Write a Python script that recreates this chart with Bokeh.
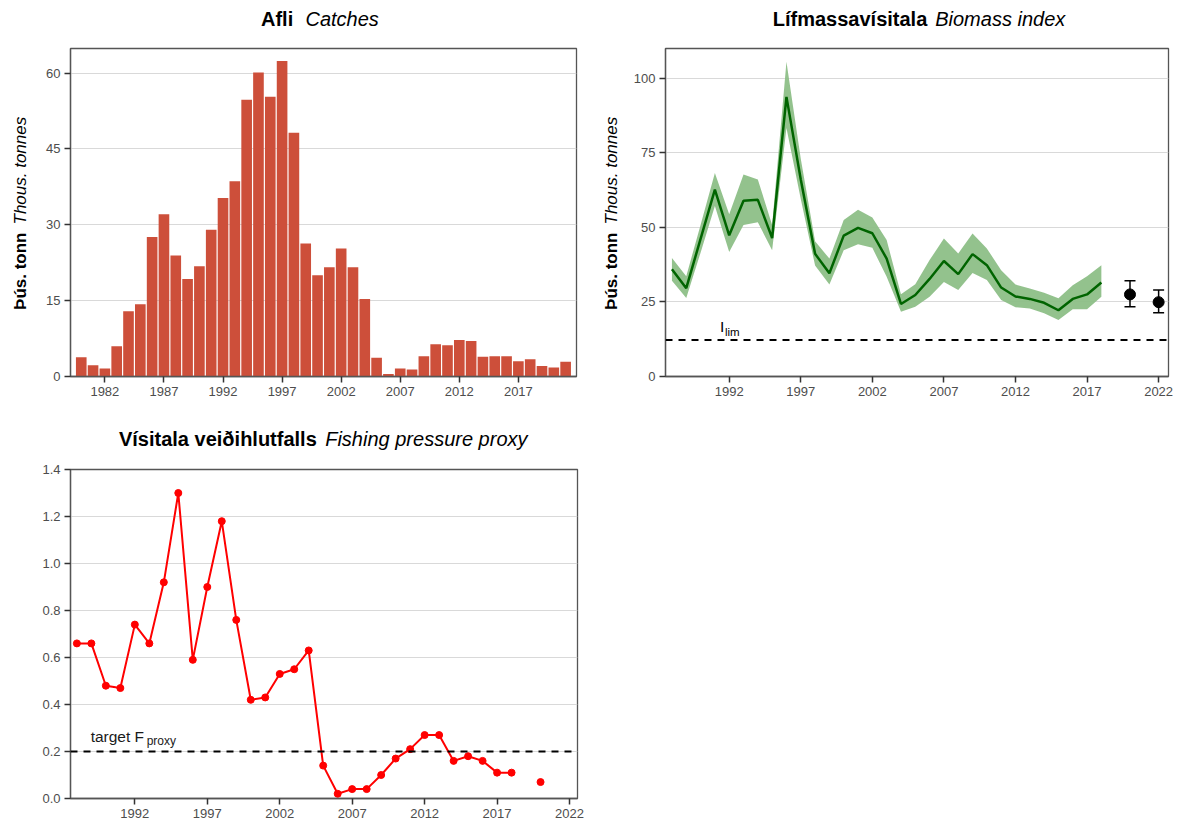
import math
from bokeh.plotting import figure
from bokeh.layouts import column, row
from bokeh.models import (ColumnDataSource, Label, Span, Range1d, FixedTicker,
                          Whisker, TeeHead, NumeralTickFormatter)
from bokeh.embed import file_html
from bokeh.resources import INLINE

FONT = "Liberation Sans"

# ---------------- data ----------------
catch_years = list(range(1980, 2022))
catches = [3.8, 2.2, 1.6, 6.0, 12.9, 14.3, 27.6, 32.1, 23.9, 19.3, 21.8, 29.0,
           35.3, 38.6, 54.7, 60.1, 55.3, 62.4, 48.2, 26.3, 20.0, 21.6, 25.3, 21.6,
           15.3, 3.7, 0.5, 1.6, 1.4, 4.0, 6.4, 6.2, 7.2, 7.0, 3.9, 4.0, 4.0, 3.0,
           3.4, 2.1, 1.8, 2.9]
catch_xticks = [1982, 1987, 1992, 1997, 2002, 2007, 2012, 2017]
catch_yticks = [0, 15, 30, 45, 60]

bio_years = list(range(1988, 2019))
bio = [35.9, 29.6, 46.1, 62.6, 47.3, 58.9, 59.2, 46.4, 93.7, 66.0, 41.1, 34.6,
       47.2, 49.8, 48.0, 39.5, 24.3, 27.3, 32.7, 38.7, 34.3, 41.0, 37.3, 29.8,
       26.8, 26.0, 24.7, 22.2, 26.0, 27.5, 31.5]
bio_hi = [39.7, 33.6, 50.8, 68.2, 54.4, 67.7, 66.0, 50.8, 105.5, 73.0, 45.3, 39.5,
          52.4, 55.9, 53.3, 45.7, 27.6, 30.9, 39.0, 46.2, 41.2, 47.9, 42.9, 35.6,
          30.8, 29.5, 28.1, 26.2, 30.6, 33.6, 37.3]
bio_lo = [32.1, 26.3, 41.5, 57.1, 41.7, 50.8, 51.7, 42.3, 83.3, 59.5, 37.2, 30.8,
          42.3, 44.3, 43.1, 33.4, 21.7, 23.4, 26.7, 31.7, 29.0, 34.7, 32.3, 25.6,
          23.2, 22.8, 21.2, 18.9, 22.5, 22.5, 26.7]
survey_years = [2020, 2022]
survey = [27.5, 24.9]
survey_lo = [23.4, 21.4]
survey_hi = [32.1, 29.0]
ilim = 12.25
bio_xticks = [1992, 1997, 2002, 2007, 2012, 2017, 2022]
bio_yticks = [0, 25, 50, 75, 100]

f_years = list(range(1988, 2019))
f_vals = [0.66, 0.66, 0.48, 0.47, 0.74, 0.66, 0.92, 1.30, 0.59, 0.90, 1.18, 0.76,
          0.42, 0.43, 0.53, 0.55, 0.63, 0.14, 0.02, 0.04, 0.04, 0.10, 0.17, 0.21,
          0.27, 0.27, 0.16, 0.18, 0.16, 0.11, 0.11]
f_extra_years = [2020]
f_extra = [0.07]
f_target = 0.2
f_xticks = [1992, 1997, 2002, 2007, 2012, 2017, 2022]
f_yticks = [0.0, 0.2, 0.4, 0.6, 0.8, 1.0, 1.2, 1.4]


# ---------------- helpers ----------------
def make_fig(width, height, xr, yr, left, right, top, bottom):
    return figure(width=width, height=height,
                  x_range=Range1d(*xr), y_range=Range1d(*yr),
                  output_backend="svg", toolbar_location=None, title_location=None,
                  min_border_left=left, min_border_right=right,
                  min_border_top=top, min_border_bottom=bottom,
                  background_fill_color="white", border_fill_color="white")


def text_strip(width, height, left=0, right=0, top=0, bottom=0):
    s = figure(width=width, height=height, x_range=Range1d(0, 1),
               y_range=Range1d(0, 1), output_backend="svg",
               toolbar_location=None, title_location=None,
               x_axis_location=None, y_axis_location=None,
               min_border=0, min_border_left=left, min_border_right=right,
               min_border_top=top, min_border_bottom=bottom,
               background_fill_color="white", border_fill_color="white")
    s.outline_line_color = None
    s.grid.visible = False
    return s


def style(p, xticks, yticks):
    p.xgrid.visible = False
    p.ygrid.grid_line_color = "#d9d9d9"
    p.ygrid.grid_line_width = 1.2
    p.outline_line_color = "#555555"
    p.outline_line_width = 1.3
    p.outline_line_alpha = 1.0
    p.xaxis.ticker = FixedTicker(ticks=xticks)
    p.yaxis.ticker = FixedTicker(ticks=yticks)
    for ax in (p.xaxis[0], p.yaxis[0]):
        ax.axis_line_color = "#555555"
        ax.axis_line_width = 1.3
        ax.major_tick_line_color = "#333333"
        ax.major_tick_line_width = 1.5
        ax.major_tick_out = 6
        ax.major_tick_in = 0
        ax.minor_tick_line_color = None
        ax.major_label_text_font = FONT
        ax.major_label_text_font_size = "13px"
        ax.major_label_text_color = "#4d4d4d"
        ax.major_label_standoff = 4


def add_title(s, bold, italic, split_l, split_r, mid):
    s.add_layout(Label(x=split_l, y=mid, x_units="screen", y_units="screen",
                       text=bold, text_align="right", text_baseline="middle",
                       text_font=FONT, text_font_style="bold",
                       text_font_size="20px", text_color="black"))
    s.add_layout(Label(x=split_r, y=mid, x_units="screen", y_units="screen",
                       text=italic, text_align="left", text_baseline="middle",
                       text_font=FONT, text_font_style="italic",
                       text_font_size="20px", text_color="black"))


def ylabel_strip(width, height, top, bottom, xpos, split_lo, split_hi):
    s = text_strip(width, height, top=top, bottom=bottom)
    s.add_layout(Label(x=xpos, y=split_lo, x_units="screen", y_units="screen",
                       text="Þús. tonn", angle=math.pi / 2, text_align="right",
                       text_baseline="middle", text_font=FONT,
                       text_font_style="bold", text_font_size="17px",
                       text_color="black"))
    s.add_layout(Label(x=xpos, y=split_hi, x_units="screen", y_units="screen",
                       text="Thous. tonnes", angle=math.pi / 2, text_align="left",
                       text_baseline="middle", text_font=FONT,
                       text_font_style="italic", text_font_size="17px",
                       text_color="black"))
    return s


# ---------------- titles & y labels ----------------
t1 = text_strip(590, 46)
add_title(t1, "Afli", "Catches", 292.7, 305.0, 27.5)
t2 = text_strip(587, 46)
add_title(t2, "Lífmassavísitala", "Biomass index", 336.8, 344.7, 27.5)
t3 = text_strip(590, 49, left=70, right=13)
add_title(t3, "Vísitala veiðihlutfalls", "Fishing pressure proxy",
          246.3, 254.7, 20.9)
yl1 = ylabel_strip(38, 364, 2, 34, 19.5, 144, 152)
yl2 = ylabel_strip(40, 364, 2, 34, 20.7, 144, 152)

# ---------------- Catches ----------------
p1 = make_fig(552, 364, (1979.09, 2021.92), (0, 64.85), 32, 14, 2, 34)
style(p1, catch_xticks, catch_yticks)
src_c = ColumnDataSource(dict(year=catch_years, catch=catches))
p1.vbar(x="year", top="catch", width=0.9, source=src_c,
        fill_color="#cd4f3a", line_color=None)

# ---------------- Biomass index ----------------
p2 = make_fig(547, 364, (1987.55, 2022.69), (0, 109.9), 35, 9, 2, 34)
style(p2, bio_xticks, bio_yticks)
src_b = ColumnDataSource(dict(year=bio_years, val=bio, lo=bio_lo, hi=bio_hi))
p2.varea(x="year", y1="lo", y2="hi", source=src_b,
         fill_color="#8dbf87", fill_alpha=0.95)
p2.line(x="year", y="val", source=src_b, line_color="#006400", line_width=2.5)
p2.add_layout(Span(location=ilim, dimension="width", line_color="black",
                   line_width=2, line_dash="7 6"))
src_s = ColumnDataSource(dict(year=survey_years, val=survey,
                              lo=survey_lo, hi=survey_hi))
p2.add_layout(Whisker(source=src_s, base="year", upper="hi", lower="lo",
                      line_color="black", line_width=1.5,
                      upper_head=TeeHead(size=11, line_color="black", line_width=1.5),
                      lower_head=TeeHead(size=11, line_color="black", line_width=1.5)))
p2.scatter(x="year", y="val", source=src_s, size=11, color="black")
p2.add_layout(Label(x=1991.35, y=16.65, text="I", text_align="left",
                    text_baseline="middle", text_font=FONT,
                    text_font_size="15.5px", text_color="black"))
p2.add_layout(Label(x=1991.35, y=16.65, x_offset=5, y_offset=-4.9, text="lim",
                    text_align="left", text_baseline="middle", text_font=FONT,
                    text_font_size="11.5px", text_color="black"))

# ---------------- Fishing pressure proxy ----------------
p3 = make_fig(590, 363, (1987.56, 2022.55), (0, 1.4), 70, 13, 10, 24)
style(p3, f_xticks, f_yticks)
p3.yaxis[0].formatter = NumeralTickFormatter(format="0.0")
src_f = ColumnDataSource(dict(year=f_years, val=f_vals))
p3.add_layout(Span(location=f_target, dimension="width", line_color="black",
                   line_width=2, line_dash="7 6"))
p3.line(x="year", y="val", source=src_f, line_color="red", line_width=2)
p3.scatter(x="year", y="val", source=src_f, size=7, color="red")
p3.scatter(x=f_extra_years, y=f_extra, size=7, color="red")
p3.add_layout(Label(x=1988.95, y=0.2655, text="target F", text_align="left",
                    text_baseline="middle", text_font=FONT,
                    text_font_size="15.5px", text_color="#1a1a1a"))
p3.add_layout(Label(x=1988.95, y=0.2655, x_offset=56, y_offset=-4.6, text="proxy",
                    text_align="left", text_baseline="middle", text_font=FONT,
                    text_font_size="12px", text_color="#1a1a1a"))

layout = column(row(t1, t2), row(yl1, p1, yl2, p2), t3, p3)
open("out.html", "w").write(file_html(layout, INLINE))
